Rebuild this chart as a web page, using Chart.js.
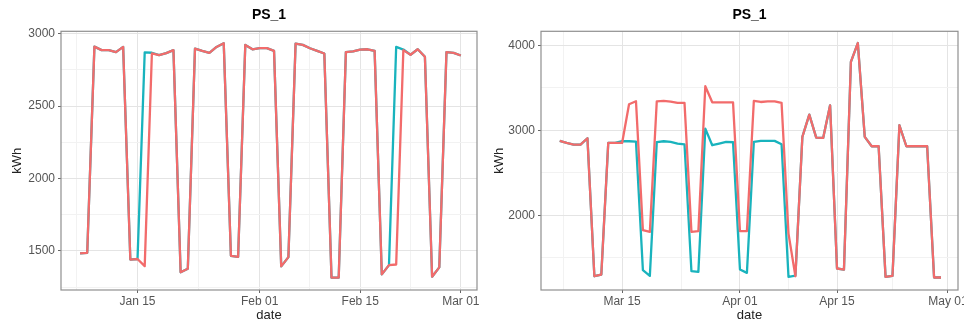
<!DOCTYPE html>
<html>
<head>
<meta charset="utf-8">
<script src="https://cdn.jsdelivr.net/npm/chart.js@4"></script>
<style>
  body { margin: 0; background: #ffffff; }
  .painel { position: absolute; top: 0; width: 482px; height: 326px; }
</style>
</head>
<body>
<div class="painel" style="left:0px"><canvas id="graficoJan" width="482" height="326"></canvas></div>
<div class="painel" style="left:482px"><canvas id="graficoMar" width="482" height="326"></canvas></div>
<script>
// day of year (2021)
const diasJan = [7, 8, 9, 10, 11, 12, 13, 14, 15, 16, 17, 18, 19, 20, 21, 22, 23, 24, 25, 26, 27, 28, 29, 30, 31,
  32, 33, 34, 35, 36, 37, 38, 39, 40, 41, 42, 43, 44, 45, 46, 47, 48, 49, 50, 51, 52, 53, 54, 55, 56, 57, 58, 59, 60];
const vermelhoJan = [1483, 1487, 2910, 2886, 2886, 2872, 2908, 1440, 1444, 1395, 2863, 2851, 2865, 2886, 1352, 1377,
  2897, 2881, 2867, 2908, 2934, 1466, 1459, 2922, 2892, 2900, 2900, 2881, 1393, 1457, 2931, 2922, 2899, 2881, 2863,
  1315, 1315, 2872, 2877, 2890, 2892, 2881, 1338, 1402, 1406, 2886, 2854, 2892, 2840, 1322, 1386, 2872, 2867, 2849];
const azulJan = [1483, 1487, 2910, 2886, 2886, 2872, 2908, 1440, 1444, 2870, 2868, 2851, 2865, 2886, 1352, 1377,
  2897, 2881, 2867, 2908, 2934, 1466, 1459, 2922, 2892, 2900, 2900, 2881, 1393, 1457, 2931, 2922, 2899, 2881, 2863,
  1315, 1315, 2872, 2877, 2890, 2892, 2881, 1338, 1402, 2908, 2890, 2854, 2892, 2840, 1322, 1386, 2872, 2867, 2849];

const diasMar = [65, 66, 67, 68, 69, 70, 71, 72, 73, 74, 75, 76, 77, 78, 79, 80, 81, 82, 83, 84, 85, 86, 87, 88, 89, 90,
  91, 92, 93, 94, 95, 96, 97, 98, 99, 100, 101, 102, 103, 104, 105, 106, 107, 108, 109, 110, 111, 112, 113, 114, 115,
  116, 117, 118, 119, 120];
const vermelhoMar = [2875, 2851, 2831, 2831, 2906, 1282, 1302, 2851, 2851, 2851, 3306, 3341, 1824, 1804, 3341, 3345,
  3337, 3322, 3322, 1804, 1812, 3518, 3329, 3329, 3329, 3329, 1812, 1812, 3345, 3333, 3341, 3341, 3322, 1784, 1282,
  2922, 3184, 2914, 2910, 3294, 1373, 1361, 3804, 4027, 2922, 2812, 2812, 1275, 1286, 3059, 2812, 2812, 2812, 2812,
  1267, 1267];
const azulMar = [2875, 2851, 2831, 2831, 2906, 1282, 1302, 2851, 2851, 2871, 2871, 2867, 1353, 1286, 2860, 2871,
  2863, 2843, 2835, 1341, 1333, 3020, 2824, 2843, 2863, 2859, 1361, 1322, 2863, 2875, 2875, 2875, 2835, 1275, 1290,
  2922, 3184, 2914, 2910, 3294, 1373, 1361, 3804, 4027, 2922, 2812, 2812, 1275, 1286, 3059, 2812, 2812, 2812, 2812,
  1267, 1267];

const ticksXJan = [15, 32, 46, 60];
const labelsXJan = ["Jan 15", "Feb 01", "Feb 15", "Mar 01"];
const minorXJan = [6.5, 23.5, 39, 53];
const ticksYJan = [1500, 2000, 2500, 3000];
const minorYJan = [1250, 1750, 2250, 2750];

const ticksXMar = [74, 91, 105, 121];
const labelsXMar = ["Mar 15", "Apr 01", "Apr 15", "May 01"];
const minorXMar = [65.5, 82.5, 98, 113];
const ticksYMar = [2000, 3000, 4000];
const minorYMar = [1500, 2500, 3500];

const fonte = "'Liberation Sans', Arial, sans-serif";

const bordaPainel = {
  id: "bordaPainel",
  afterDraw(chart) {
    const a = chart.chartArea;
    const ctx = chart.ctx;
    ctx.save();
    ctx.strokeStyle = "#8f8f8f";
    ctx.lineWidth = 1.2;
    ctx.strokeRect(a.left, a.top, a.right - a.left, a.bottom - a.top);
    ctx.restore();
  },
};

function pontos(dias, valores) {
  return dias.map((d, i) => ({ x: d, y: valores[i] }));
}

function criarGrafico(id, dias, vermelho, azul, eixoX, eixoY, larguraY, padDireita) {
  const configLinha = {
    type: "line",
    data: {
      datasets: [
        {
          data: pontos(dias, vermelho),
          borderColor: "#F26B6B",
          borderWidth: 2.3,
          borderJoinStyle: "round",
          pointRadius: 0,
          tension: 0,
        },
        {
          data: pontos(dias, azul),
          borderColor: "#19B3BD",
          borderWidth: 2.3,
          borderJoinStyle: "round",
          pointRadius: 0,
          tension: 0,
        },
      ],
    },
    options: {
      responsive: false,
      animation: false,
      layout: { padding: { left: 0, right: padDireita, top: 0, bottom: 0 } },
      scales: {
        x: {
          type: "linear",
          min: eixoX.min,
          max: eixoX.max,
          afterBuildTicks: (s) => {
            s.ticks = eixoX.ticks.concat(eixoX.minor).sort((a, b) => a - b).map((v) => ({ value: v }));
          },
          afterFit: (s) => {
            s.height = 36;
            s.paddingLeft = 0;
            s.paddingRight = 0;
          },
          ticks: {
            autoSkip: false,
            maxRotation: 0,
            padding: 1,
            color: "#555555",
            font: { family: fonte, size: 12 },
            callback: (v) => {
              const i = eixoX.ticks.indexOf(v);
              return i >= 0 ? eixoX.labels[i] : "";
            },
          },
          grid: {
            color: (c) => (eixoX.ticks.includes(c.tick.value) ? "#e4e4e4" : "#f2f2f2"),
            tickColor: (c) => (eixoX.ticks.includes(c.tick.value) ? "#666666" : "transparent"),
            tickLength: 3,
          },
          border: { display: false },
          title: {
            display: true,
            text: "date",
            color: "#222222",
            font: { family: fonte, size: 13 },
            padding: { top: 0, bottom: 3 },
          },
        },
        y: {
          min: eixoY.min,
          max: eixoY.max,
          afterBuildTicks: (s) => {
            s.ticks = eixoY.ticks.concat(eixoY.minor).sort((a, b) => a - b).map((v) => ({ value: v }));
          },
          afterFit: (s) => {
            s.width = larguraY;
            s.paddingTop = 0;
            s.paddingBottom = 0;
          },
          ticks: {
            autoSkip: false,
            padding: 3,
            color: "#555555",
            font: { family: fonte, size: 12 },
            callback: (v) => (eixoY.ticks.includes(v) ? String(v) : ""),
          },
          grid: {
            color: (c) => (eixoY.ticks.includes(c.tick.value) ? "#e4e4e4" : "#f2f2f2"),
            tickColor: (c) => (eixoY.ticks.includes(c.tick.value) ? "#666666" : "transparent"),
            tickLength: 3,
          },
          border: { display: false },
          title: {
            display: true,
            text: "kWh",
            color: "#222222",
            font: { family: fonte, size: 13 },
            padding: { top: 10, bottom: 0 },
          },
        },
      },
      plugins: {
        legend: { display: false },
        tooltip: { enabled: false },
        title: {
          display: true,
          text: "PS_1",
          fullSize: false,
          color: "#000000",
          font: { family: fonte, size: 14, weight: "bold" },
          padding: { top: 7, bottom: 7.5 },
        },
      },
    },
    plugins: [bordaPainel],
  };

  return new Chart(document.getElementById(id), configLinha);
}

criarGrafico(
  "graficoJan", diasJan, vermelhoJan, azulJan,
  { min: 4.35, max: 62.25, ticks: ticksXJan, labels: labelsXJan, minor: minorXJan },
  { min: 1230, max: 3016, ticks: ticksYJan, minor: minorYJan },
  61, 5
);

criarGrafico(
  "graficoMar", diasMar, vermelhoMar, azulMar,
  { min: 62.3, max: 122.45, ticks: ticksXMar, labels: labelsXMar, minor: minorXMar },
  { min: 1120, max: 4165, ticks: ticksYMar, minor: minorYMar },
  59, 6
);
</script>
</body>
</html>
